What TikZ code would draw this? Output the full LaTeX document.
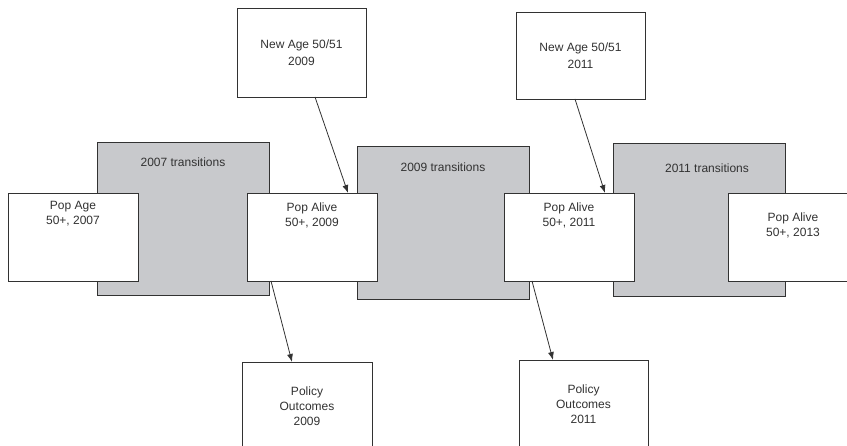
\documentclass[tikz,border=0pt]{standalone}
\usepackage{fontspec}
\setmainfont{Liberation Sans}
\usetikzlibrary{arrows.meta}
\definecolor{transgray}{RGB}{200,201,204}
\definecolor{inkgray}{RGB}{50,50,50}

\begin{document}
\begin{tikzpicture}[x=1pt,y=-1pt,
    box/.style = {rectangle,draw=inkgray,line width=0.8pt,minimum width=130pt,minimum height=88pt,
                  inner sep=0pt,outer sep=0pt,font=\fontsize{12}{15}\selectfont,text=inkgray,align=center},
    lab/.style = {anchor=north,inner sep=0pt,font=\fontsize{12}{15}\selectfont,text=inkgray,align=center},
    trans/.style = {box,fill=transgray,minimum width=172pt,minimum height=153pt},
    pop/.style = {box,fill=white},
    flow/.style = {-{Latex[length=8pt,width=6pt]},draw=inkgray,line width=0.8pt}]
\clip (0,0) rectangle (847,446);
% transition blocks
\node[trans,label={[lab,yshift=-16pt]north:2007 transitions}] (t07) at (183,218.5) {};
\node[trans,label={[lab,yshift=-17pt]north:2009 transitions}] (t09) at (443,222.5) {};
\node[trans,label={[lab,yshift=-21pt,xshift=8pt]north:2011 transitions}] (t11) at (699,219.5) {};
% population boxes
\node[pop,label={[lab,yshift=-8pt]north:{Pop Age\\50+, 2007}}] (pa07) at (73,237) {};
\node[pop,label={[lab,yshift=-10pt]north:{Pop Alive\\50+, 2009}}] (pa09) at (312,237) {};
\node[pop,label={[lab,yshift=-10pt]north:{Pop Alive\\50+, 2011}}] (pa11) at (569,237) {};
\node[pop,label={[lab,yshift=-20pt]north:{Pop Alive\\50+, 2013}}] (pa13) at (793,237) {};
% new entrants
\node[pop,minimum width=129pt,minimum height=89pt] (na09) at (301.5,52.5) {New Age 50/51\\[2pt]2009};
\node[pop,minimum width=129pt,minimum height=87pt] (na11) at (580.5,55.5) {New Age 50/51\\[2pt]2011};
% outcomes
\node[pop] (po09) at (307,406) {Policy\\Outcomes\\2009};
\node[pop,minimum width=129pt] (po11) at (583.5,404) {Policy\\Outcomes\\2011};
% arrows
\draw[flow] ([xshift=13.5pt]na09.south) -- ([xshift=36pt]pa09.north);
\draw[flow] ([xshift=-5.5pt]na11.south) -- ([xshift=36pt]pa11.north);
\draw[flow] ([xshift=-41pt]pa09.south) -- ([xshift=-15pt]po09.north);
\draw[flow] ([xshift=-37pt]pa11.south) -- ([xshift=-30.5pt]po11.north);
\end{tikzpicture}
\end{document}
